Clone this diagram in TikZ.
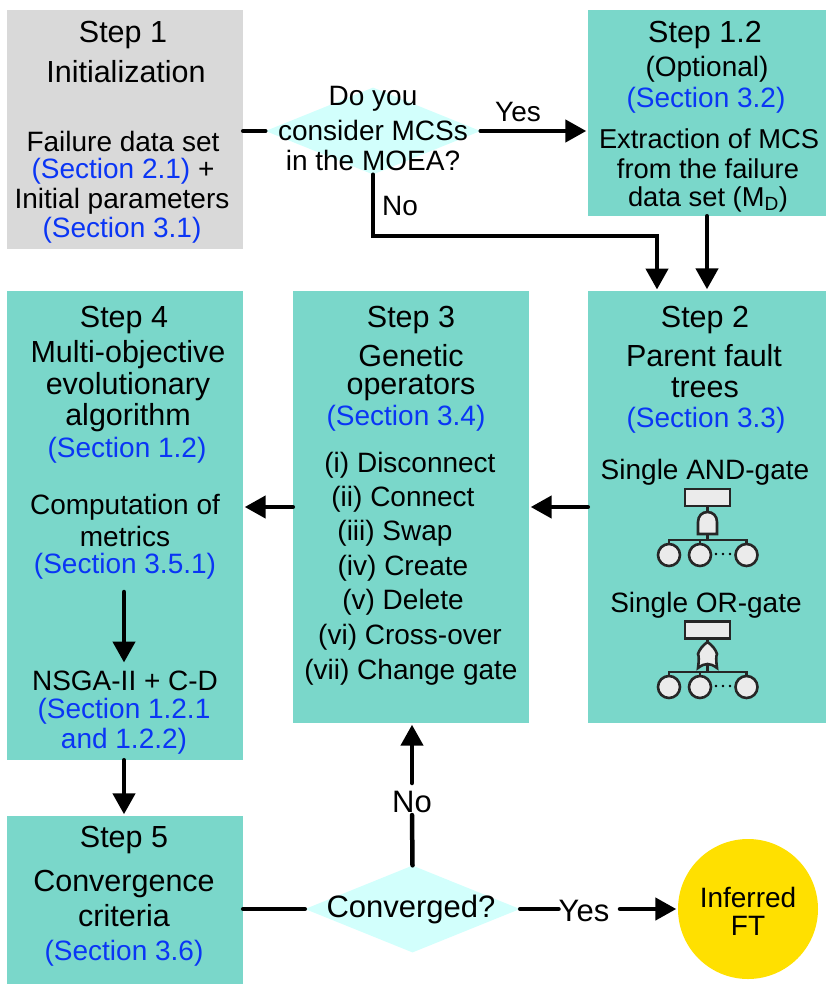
\documentclass[tikz,border=0pt]{standalone}
\usepackage{fontspec}
\setmainfont{Liberation Sans}
\usetikzlibrary{arrows.meta,shapes.geometric}
\definecolor{stepteal}{HTML}{7AD7CA}
\definecolor{stepgray}{HTML}{D9D9D9}
\definecolor{decidecyan}{HTML}{D2FFFC}
\definecolor{sectblue}{HTML}{0A35F5}
\definecolor{resultyellow}{HTML}{FFE000}
\definecolor{iconfill}{HTML}{EBEBEB}
\tikzset{
    stepbox/.style={draw=none,fill=stepteal,inner sep=0pt},
    decision/.style={shape=diamond,fill=decidecyan,inner sep=0pt,minimum width=215pt,minimum height=87pt},
    title/.style={font=\fontsize{30.5}{30.5}\selectfont,inner sep=0pt,yshift=-2pt},
    body/.style={font=\fontsize{28}{28}\selectfont,inner sep=0pt,yshift=-2pt},
    small/.style={font=\fontsize{27.3}{27.3}\selectfont,inner sep=0pt,yshift=-2pt},
    label/.style={font=\fontsize{31}{31}\selectfont,inner sep=0pt,yshift=-2pt},
    sect/.style={body,text=sectblue},
    flow/.style={line width=4.5pt,line cap=round,-{Triangle[length=21pt,width=22pt]},shorten >=1.5pt},
    link/.style={line width=4.5pt,line cap=round},
    icon/.style={draw=black!85,line width=2.6pt,fill=iconfill},
    leaf/.style={icon,shape=circle,inner sep=0pt,minimum size=22pt}
}
% one row of basic events under a gate
\newcommand{\leafrow}[2]{
    \coordinate (#1bus) at (707.5,#2-15);
    \node[leaf] (#1a) at (669,#2) {};
    \node[leaf] (#1b) at (700,#2) {};
    \node[leaf] (#1c) at (746.5,#2) {};
    \draw[icon,fill=none] (#1a.north) |- (#1bus) -| (#1c.north);
    \draw[icon,fill=none] (#1b.north) -- (#1b |- #1bus);
    \fill (716,#2-1) circle (1.3pt) (723,#2-1) circle (1.3pt) (730,#2-1) circle (1.3pt);
}
\begin{document}
\begin{tikzpicture}[x=1pt,y=-1pt]
    \useasboundingbox (0,0) rectangle (831,994);

    % Boxes
    \node[stepbox,fill=stepgray,minimum width=236pt,minimum height=239pt] (step1) at (125,129.5) {};
    \node[stepbox,minimum width=238pt,minimum height=206pt] (step12) at (707,113) {};
    \node[stepbox,minimum width=238pt,minimum height=432pt] (step2) at (707,507) {};
    \node[stepbox,minimum width=236pt,minimum height=432pt] (step3) at (411,507) {};
    \node[stepbox,minimum width=236pt,minimum height=469pt] (step4) at (125,525.5) {};
    \node[stepbox,minimum width=236pt,minimum height=168pt] (step5) at (125,900) {};
    \node[decision] (decide) at (373,131) {};
    \node[decision] (converged) at (412.5,909) {};
    \node[circle,fill=resultyellow,inner sep=0pt,minimum size=140pt] (result) at (748,909) {};

    % Step 1
    \node[title] (s1a) at (123,33) {Step 1};
    \node[title] (s1b) at (126,70) {Initialization};
    \node[body] (s1c) at (123,139) {Failure data set};
    \node[body] (s1d) at (123,169) {\textcolor{sectblue}{(Section 2.1)} +};
    \node[body] (s1e) at (122,199) {Initial parameters};
    \node[sect] (s1f) at (122,228) {(Section 3.1)};

    % Step 1.2
    \node[title] (s12a) at (705,33) {Step 1.2};
    \node[body] (s12b) at (707,67) {(Optional)};
    \node[sect] (s12c) at (706,98) {(Section 3.2)};
    \node[small] (s12d) at (709,137) {Extraction of MCS};
    \node[small] (s12e) at (708,167) {from the failure};
    \node[small] (s12f) at (708,197) {data set (M\textsubscript{D})};

    % Step 2
    \node[title] (s2a) at (705,318) {Step 2};
    \node[title] (s2b) at (704,354) {Parent fault};
    \node[title] (s2c) at (705,386) {trees};
    \node[sect] (s2d) at (706,418) {(Section 3.3)};
    \node[body] (s2e) at (705,470) {Single AND-gate};
    \node[body] (s2f) at (706,603) {Single OR-gate};

    % Step 3
    \node[title] (s3a) at (411,318) {Step 3};
    \node[title] (s3b) at (411,354) {Genetic};
    \node[title] (s3c) at (411,386) {operators};
    \node[sect] (s3d) at (406,416) {(Section 3.4)};
    \node[body] (s3e) at (410,463) {(i) Disconnect};
    \node[body] (s3f) at (403,497) {(ii) Connect};
    \node[body] (s3g) at (395,531) {(iii) Swap};
    \node[body] (s3h) at (403,566) {(iv) Create};
    \node[body] (s3i) at (403,600) {(v) Delete};
    \node[body] (s3j) at (410,635) {(vi) Cross-over};
    \node[body] (s3k) at (411,670) {(vii) Change gate};

    % Step 4
    \node[title] (s4a) at (124,318) {Step 4};
    \node[title] (s4b) at (128,353) {Multi-objective};
    \node[title] (s4c) at (128,385) {evolutionary};
    \node[title] (s4d) at (128,416) {algorithm};
    \node[sect] (s4e) at (127,448) {(Section 1.2)};
    \node[body] (s4f) at (125,505) {Computation of};
    \node[body] (s4g) at (125,534) {metrics};
    \node[sect] (s4h) at (125,564) {(Section 3.5.1)};
    \node[body] (s4i) at (125,679) {NSGA-II + C-D};
    \node[sect] (s4j) at (124,709) {(Section 1.2.1};
    \node[sect] (s4k) at (124,739) {and 1.2.2)};

    % Step 5
    \node[title] (s5a) at (124,838) {Step 5};
    \node[title] (s5b) at (124,882) {Convergence};
    \node[title] (s5c) at (124,914) {criteria};
    \node[sect] (s5d) at (124,951) {(Section 3.6)};

    % Connector text
    \node[body] (q1) at (373,97) {Do you};
    \node[body] (q2) at (373,128) {consider MCSs};
    \node[body] (q3) at (373,158) {in the MOEA?};
    \node[label] (q4) at (411,907) {Converged?};
    \node[body] (yes1) at (518,110) {Yes};
    \node[body] (no1) at (400,204) {No};
    \node[label] (yes2) at (584,909) {Yes};
    \node[label] (no2) at (412,800) {No};
    \node[body] (r1) at (748,895) {Inferred};
    \node[body] (r2) at (748,924) {FT};

    % Inner anchors
    \coordinate (bend) at (657,236);
    \coordinate (step2in) at (657,291);
    \coordinate (metricsend) at (124,592);
    \coordinate (nsgatop) at (124,664);
    \coordinate (nobelow) at (412,815);
    \coordinate (noabove) at (412,783);
    \coordinate (yesright) at (620,909);

    % Connectors
    \draw[link] (step1.east |- decide.west) -- (decide.west);
    \draw[flow] (decide.east) -- (step12.west |- decide.east);
    \draw[flow] (decide.south) |- (bend) -- (step2in);
    \draw[flow] (step12.south) -- (step2.north);
    \draw[flow] (step2.west) -- (step3.east);
    \draw[flow] (step3.west) -- (step4.east |- step3.west);
    \draw[flow] (metricsend) -- (nsgatop);
    \draw[flow] (step4.south -| metricsend) -- (step5.north -| metricsend);
    \draw[link] (step5.east |- converged.west) -- (converged.west);
    \draw[link] (converged.east) -- (yes2.west |- converged.east);
    \draw[flow] (yesright) -- (result.west);
    \draw[link] (converged.north) -- (nobelow);
    \draw[flow] (noabove) -- (step3.south -| noabove);

    % AND-gate tree
    \node[icon,inner sep=0pt,minimum width=45pt,minimum height=17pt] (topand) at (707.5,497.5) {};
    \draw[icon,fill=none] (topand.south) -- (707.5,512);
    \draw[icon,fill=none] (707.5,534) -- (707.5,540);
    \draw[icon] (698,534) -- (698,522) .. controls (698,516) and (702,512) .. (707.5,512)
        .. controls (713,512) and (717,516) .. (717,522) -- (717,534) -- cycle;
    \leafrow{and}{555}

    % OR-gate tree
    \node[icon,inner sep=0pt,minimum width=45pt,minimum height=17pt] (topor) at (707.5,630) {};
    \draw[icon,fill=none] (topor.south) -- (707.5,643);
    \draw[icon,fill=none] (707.5,663) -- (707.5,672);
    \draw[icon] (698,668) .. controls (699,660) and (699,656) .. (698,654)
        .. controls (699,650) and (703,645) .. (707.5,642)
        .. controls (712,645) and (716,650) .. (717,654)
        .. controls (716,656) and (716,660) .. (717,668)
        .. controls (713,665) and (710,664) .. (707.5,664)
        .. controls (705,664) and (702,665) .. (698,668) -- cycle;
    \leafrow{or}{687}
\end{tikzpicture}
\end{document}
